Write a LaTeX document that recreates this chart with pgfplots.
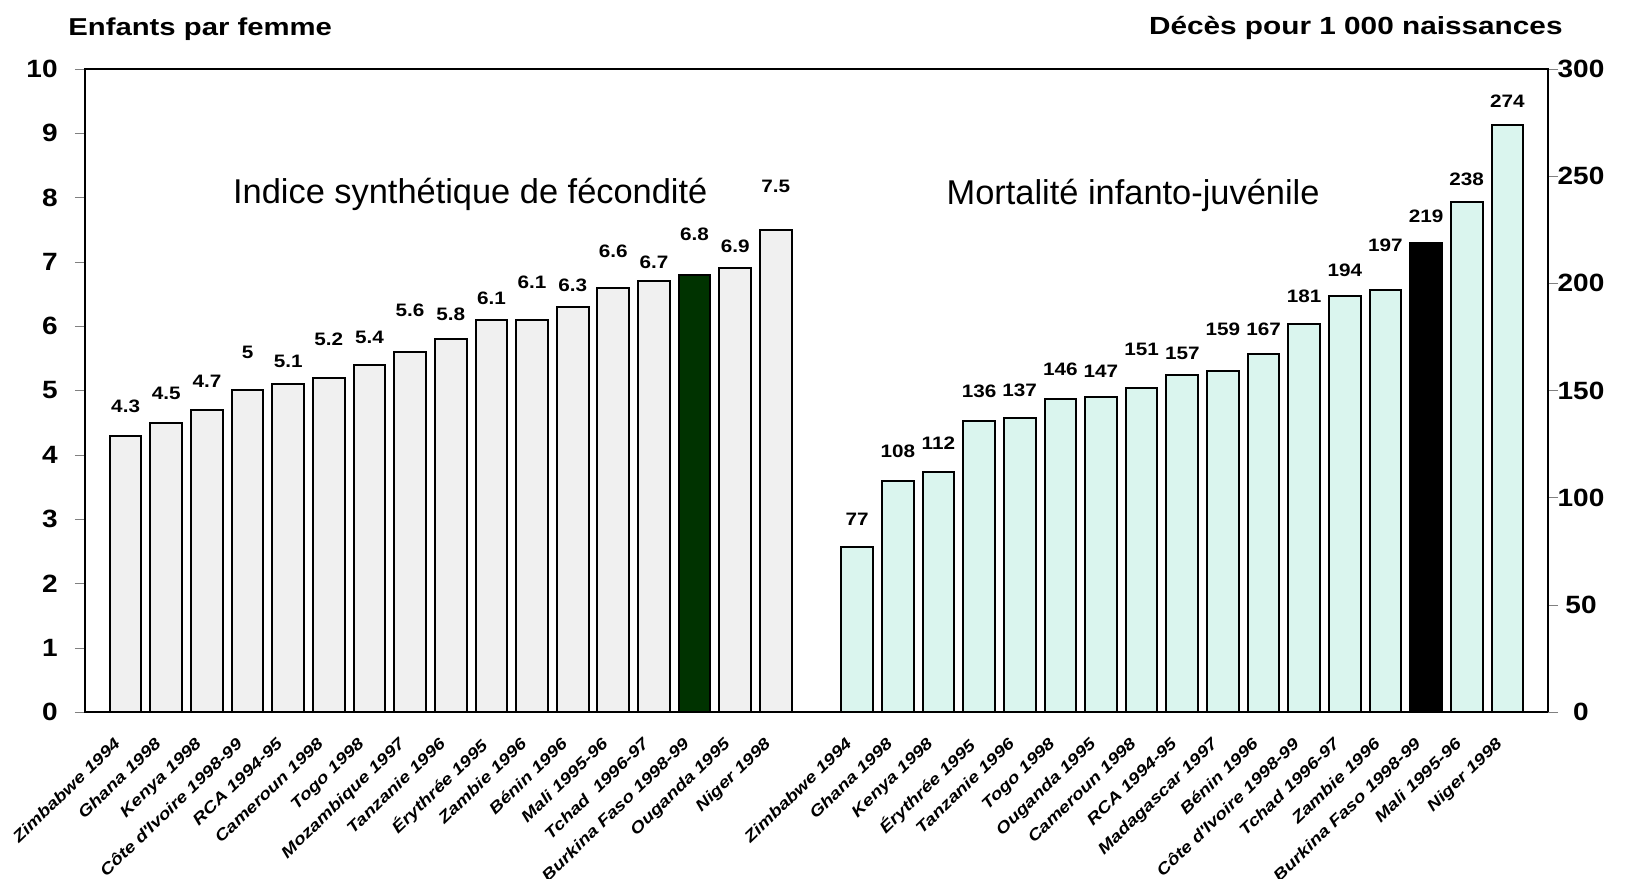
\documentclass[border=0pt]{standalone}
\usepackage{fontspec}
\setmainfont{Liberation Sans}
\newfontfamily\bst[FakeStretch=1.2]{Liberation Sans}
\newfontfamily\vst[FakeStretch=1.15]{Liberation Sans}
\newfontfamily\tst[FakeStretch=1.12]{Liberation Sans}
\usepackage{pgfplots}
\usepackage{pgfplotstable}
\pgfplotsset{compat=1.18}
\definecolor{lg}{RGB}{240,240,240}
\definecolor{mint}{RGB}{218,245,238}
\definecolor{dg}{RGB}{0,51,0}

\pgfplotstableread{
x y
0 4.3
1 4.5
2 4.7
3 5
4 5.1
5 5.2
6 5.4
7 5.6
8 5.8
9 6.1
10 6.1
11 6.3
12 6.6
13 6.7
15 6.9
16 7.5
}\fert
\pgfplotstableread{
x ly lab
0 4.76 4.3
1 4.95 4.5
2 5.14 4.7
3 5.59 5
4 5.45 5.1
5 5.79 5.2
6 5.82 5.4
7 6.25 5.6
8 6.19 5.8
9 6.43 6.1
10 6.68 6.1
11 6.63 6.3
12 7.16 6.6
13 7.00 6.7
14 7.43 6.8
15 7.25 6.9
16 8.17 7.5
}\fertlab
\pgfplotstableread{
x y
18 77
19 108
20 112
21 136
22 137
23 146
24 147
25 151
26 157
27 159
28 167
29 181
30 194
31 197
33 238
34 274
}\mort
\pgfplotstableread{
x ly lab
18 89.9 77
19 121.5 108
20 125.4 112
21 149.5 136
22 150.2 137
23 159.9 146
24 158.8 147
25 169.2 151
26 167.3 157
27 178.5 159
28 178.5 167
29 194.1 181
30 206.2 194
31 217.9 197
32 231.1 219
33 248.7 238
34 284.8 274
}\mortlab

\begin{document}
\begin{tikzpicture}[x=1pt,y=1pt]
\useasboundingbox (-42.5,-83) rectangle (773.5,356);
\pgfplotsset{
  common/.style={
    scale only axis, width=731.5pt, height=321.5pt,
    at={(0pt,0pt)}, anchor=south west,
    xmin=-1, xmax=35, clip=false,
    tick align=outside, major tick length=5pt,
    axis line style={line width=1.3pt},
    /pgf/number format/assume math mode=true,
    yticklabel style={font=\tst\bfseries\fontsize{12.5}{14}\selectfont, inner sep=0pt},
  },
  vlab/.style={draw=none, mark=none, nodes near coords, point meta=explicit symbolic,
    every node near coord/.append style={anchor=center, inner sep=0pt,
      font=\vst\bfseries\fontsize{9}{10}\selectfont}},
}
\begin{axis}[common,
  ymin=0, ymax=10, ytick={0,1,...,10}, ytick pos=left,
  yticklabel style={anchor=east, xshift=-8.5pt},
  xtick={0,1,...,16,18,19,...,34},
  xtick style={draw=none},
  xticklabels={Zimbabwe 1994, Ghana 1998, Kenya 1998, C\^ote d{\textquotesingle}Ivoire 1998-99, RCA 1994-95, Cameroun 1998, Togo 1998, Mozambique 1997, Tanzanie 1996, \'Erythr\'ee 1995, Zambie 1996, B\'enin 1996, Mali 1995-96, Tchad~ 1996-97, Burkina Faso 1998-99, Ouganda 1995, Niger 1998,
    Zimbabwe 1994, Ghana 1998, Kenya 1998, \'Erythr\'ee 1995, Tanzanie 1996, Togo 1998, Ouganda 1995, Cameroun 1998, RCA 1994-95, Madagascar 1997, B\'enin 1996, C\^ote d{\textquotesingle}Ivoire 1998-99, Tchad 1996-97, Zambie 1996, Burkina Faso 1998-99, Mali 1995-96, Niger 1998},
  xticklabel style={xshift=-6.25pt, yshift=-7pt, rotate=44, anchor=north east, inner sep=0pt,
    font=\bst\bfseries\itshape\fontsize{8}{9}\selectfont},
]
\addplot[ybar, bar width=0.78, bar shift=0pt, fill=lg, draw=black, line width=1pt] table[x=x,y=y] {\fert};
\addplot[ybar, bar width=0.78, bar shift=0pt, fill=dg, draw=black, line width=1pt] coordinates {(14,6.8)};
\addplot[vlab] table[x=x, y=ly, meta=lab] {\fertlab};
\node[anchor=base, inner sep=0pt, font=\fontsize{17.2}{20}\selectfont] at (axis cs:8.48,7.91) {Indice synth\'etique de f\'econdit\'e};
\node[anchor=base, inner sep=0pt, font=\fontsize{17.2}{20}\selectfont] at (axis cs:24.79,7.90) {Mortalit\'e infanto-juv\'enile};
\end{axis}
\begin{axis}[common,
  ymin=0, ymax=300, ytick={0,50,...,300},
  axis y line*=right, axis x line=none,
  yticklabel style={anchor=center, xshift=11.5pt},
]
\addplot[ybar, bar width=0.78, bar shift=0pt, fill=mint, draw=black, line width=1pt] table[x=x,y=y] {\mort};
\addplot[ybar, bar width=0.78, bar shift=0pt, fill=black, draw=black, line width=1pt] coordinates {(32,219)};
\addplot[vlab] table[x=x, y=ly, meta=lab] {\mortlab};
\end{axis}
\node[anchor=base west, inner sep=0pt, font=\bst\bfseries\fontsize{12.2}{14}\selectfont] at (-8.5,338.2) {Enfants par femme};
\node[anchor=base east, inner sep=0pt, font=\bst\bfseries\fontsize{12.4}{14}\selectfont] at (739,338.5) {D\'ec\`es pour 1 000 naissances};
\end{tikzpicture}
\end{document}
